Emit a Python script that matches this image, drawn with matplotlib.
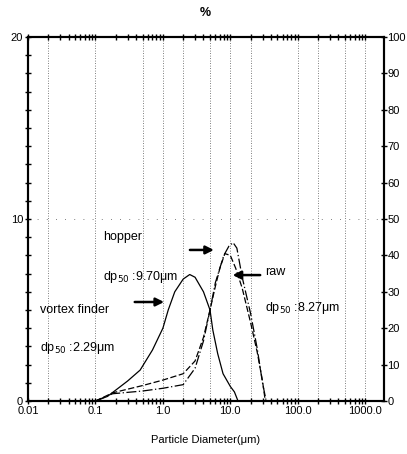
import matplotlib
matplotlib.use("Agg")
import matplotlib.pyplot as plt
import numpy as np
from matplotlib.ticker import LogLocator, FixedLocator, NullFormatter

plt.rcParams['font.family'] = ['Liberation Sans', 'DejaVu Sans']

# particle diameter (um) and frequency (%)
vortex_d = [0.1, 0.15, 0.2, 0.3, 0.46, 0.7, 1.0, 1.2, 1.5, 2.0, 2.5, 3.0, 4.0, 5.0, 5.5, 6.5, 7.8, 10.0, 11.5, 13.0]
vortex_v = [0.0, 0.25, 0.6, 1.1, 1.7, 2.8, 4.0, 5.0, 6.0, 6.7, 6.95, 6.8, 6.0, 5.0, 3.9, 2.6, 1.5, 0.8, 0.5, 0.0]

raw_d = [0.1, 0.18, 0.5, 1.0, 2.0, 3.0, 4.0, 5.0, 6.0, 7.0, 8.3, 10.0, 12.0, 15.0, 20.0, 25.0, 30.0, 33.0]
raw_v = [0.0, 0.45, 0.85, 1.15, 1.5, 2.2, 3.5, 5.0, 6.3, 7.3, 8.1, 8.0, 7.3, 6.2, 4.3, 2.7, 1.1, 0.0]

hopper_d = [0.1, 0.18, 0.5, 1.0, 2.0, 3.0, 4.0, 5.0, 6.0, 8.0, 9.5, 11.0, 12.5, 15.0, 20.0, 25.0, 30.0, 34.0]
hopper_v = [0.0, 0.4, 0.55, 0.7, 0.9, 1.8, 3.3, 5.0, 6.5, 8.0, 8.5, 8.7, 8.4, 6.8, 4.8, 2.9, 1.0, 0.0]

grid_d = [0.02, 0.1, 0.5, 1, 2, 5, 10, 20, 100, 200, 500, 1000]
x_ticks = [0.01, 0.1, 1, 10, 100, 1000]
x_labels = ['0.01', '0.1', '1.0', '10.0', '100.0', '1000.0']

fig = plt.figure(figsize=(4.07, 4.54), dpi=100)
ax = fig.add_axes([0.0688, 0.1167, 0.8747, 0.8018])

for g in grid_d:
    ax.axvline(g, color='#555555', lw=0.6, ls=(0, (1, 2)), zorder=0)
ax.axhline(10, color='#555555', lw=0.6, ls=(0, (1, 10)), zorder=0)

ax.plot(vortex_d, vortex_v, color='black', lw=0.9)
ax.plot(raw_d, raw_v, color='black', lw=0.9, ls=(0, (5, 2)))
ax.plot(hopper_d, hopper_v, color='black', lw=0.9, ls=(0, (8, 2, 1, 2)))

ax.set_xscale('log')
ax.set_xlim(0.01, 1900)
ax.set_ylim(0, 20)
ax.set_xticks(x_ticks)
ax.set_xticklabels(x_labels)
ax.xaxis.set_minor_locator(LogLocator(base=10, subs=np.arange(2, 10)))
ax.xaxis.set_minor_formatter(NullFormatter())
ax.set_yticks([0, 10, 20])
ax.yaxis.set_minor_locator(FixedLocator(np.arange(0, 21, 1)))

ax.tick_params(axis='x', which='both', direction='inout', top=True, length=5, width=1.0, labelsize=8, pad=1)
ax.tick_params(axis='y', which='both', direction='inout', length=5, width=1.0, labelsize=8, pad=1)
for s in ax.spines.values():
    s.set_linewidth(1.5)

ax2 = ax.twinx()
ax2.set_ylim(0, 100)
ax2.set_yticks(np.arange(0, 101, 10))
ax2.tick_params(axis='y', direction='inout', length=5, width=1.0, labelsize=8, pad=0)
for s in ax2.spines.values():
    s.set_linewidth(1.5)

ax.set_xlabel('Particle Diameter(μm)', fontsize=8, labelpad=14)
fig.text(0.504, 0.972, '%', ha='center', va='center', fontsize=9, fontweight='bold')

fs = 9
ax.text(0.21, 0.45, 'hopper', transform=ax.transAxes, fontsize=fs, va='center')
ax.text(0.21, 0.34, 'dp$_{50}$ :9.70μm', transform=ax.transAxes, fontsize=fs, va='center')
ax.text(0.034, 0.25, 'vortex finder', transform=ax.transAxes, fontsize=fs, va='center')
ax.text(0.034, 0.146, 'dp$_{50}$ :2.29μm', transform=ax.transAxes, fontsize=fs, va='center')
ax.text(0.666, 0.354, 'raw', transform=ax.transAxes, fontsize=fs, va='center')
ax.text(0.666, 0.255, 'dp$_{50}$ :8.27μm', transform=ax.transAxes, fontsize=fs, va='center')

arrow = dict(arrowstyle='-|>', color='black', lw=1.8, mutation_scale=12)
ax.annotate('', xy=(0.53, 0.415), xytext=(0.447, 0.415), xycoords='axes fraction', arrowprops=arrow)
ax.annotate('', xy=(0.39, 0.272), xytext=(0.292, 0.272), xycoords='axes fraction', arrowprops=arrow)
ax.annotate('', xy=(0.567, 0.346), xytext=(0.66, 0.346), xycoords='axes fraction', arrowprops=arrow)

fig.savefig('out.png', dpi=100)
